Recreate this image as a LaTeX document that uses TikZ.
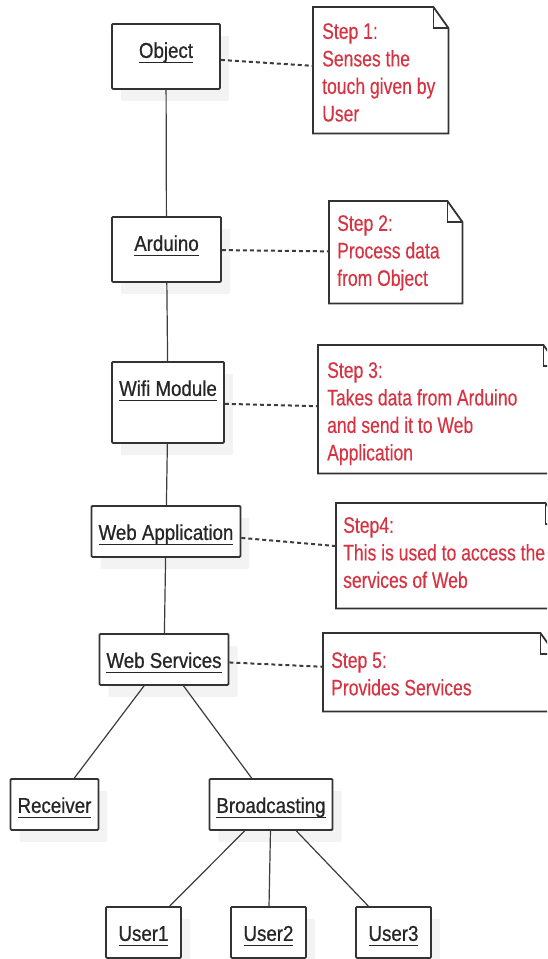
\documentclass[tikz,border=0pt]{standalone}
\usepackage{fontspec}
\setmainfont{Liberation Sans}
\newfontfamily\objfont{Liberation Sans}[FakeStretch=0.87, FakeBold=0.7]
\newfontfamily\notefont{Liberation Sans}[FakeStretch=0.78, FakeBold=0.3]
\usetikzlibrary{shadows}
\definecolor{notered}{RGB}{214,52,66}
\definecolor{linegray}{RGB}{60,60,60}
% underlined object name, rule at a fixed depth
\newcommand{\objname}[1]{\setbox0\hbox{#1}\rlap{\rule[-5.5pt]{\wd0}{1.4pt}}\box0}

\begin{document}
\begin{tikzpicture}[x=1pt, y=-1pt,
            myobject/.style={shape=rectangle, draw=black!80, line width=1.8pt, fill=white,
                rounded corners=1pt, font=\objfont\fontsize{21.5}{26}\selectfont, text=black!85,
                inner xsep=7pt, inner ysep=8pt, text height=26pt, text depth=9pt,
                minimum width=75pt, anchor=north,
                drop shadow={shadow xshift=9pt, shadow yshift=-12pt, fill=black!9, draw=none}},
            mynote/.style={shape=rectangle, inner sep=0pt, anchor=north west},
            myframe/.style={draw=black!80, line width=1.8pt, fill=white},
            mytext/.style={anchor=north west, inner sep=0pt, align=left, text=notered,
                font=\notefont\fontsize{22.5}{27.5}\selectfont},
            mylink/.style={draw=linegray, line width=1.2pt},
            mydash/.style={draw=linegray, line width=2pt, dash pattern=on 4pt off 3pt}
        ]
        \clip (0,0) rectangle (547,959);

        % objects
        \node [myobject, minimum width=108pt, text depth=23pt] (obj)  at (166,23)  {\objname{Object}};
        \node [myobject, minimum width=109pt, text depth=23pt] (ard)  at (166.5,216) {\objname{Arduino}};
        \node [myobject, minimum width=112pt, text depth=39pt] (wifi) at (168,361) {\objname{Wifi Module}};
        \node [myobject] (webapp) at (166,505)   {\objname{Web Application}};
        \node [myobject] (websrv) at (164,633)   {\objname{Web Services}};
        \node [myobject] (recv)   at (54.5,778)  {\objname{Receiver}};
        \node [myobject] (bcast)  at (271,778)   {\objname{Broadcasting}};
        \node [myobject] (user1)  at (143.5,906) {\objname{User1}};
        \node [myobject] (user2)  at (268.5,906) {\objname{User2}};
        \node [myobject] (user3)  at (393.5,906) {\objname{User3}};

        % notes
        \node [mynote, minimum width=135pt, minimum height=126pt] (note1) at (313,7)   {};
        \node [mynote, minimum width=133pt, minimum height=102pt] (note2) at (329,201) {};
        \node [mynote, minimum width=240pt, minimum height=128pt] (note3) at (318,345) {};
        \node [mynote, minimum width=224pt, minimum height=105pt] (note4) at (336,503) {};
        \node [mynote, minimum width=232pt, minimum height=78pt]  (note5) at (323,633) {};

        \foreach \n in {note1,note2,note3,note4,note5} {
            \draw [myframe] (\n.north west) -- ([xshift=-15pt]\n.north east)
                  -- ([yshift=-21pt]\n.north east) -- (\n.south east)
                  -- (\n.south west) -- cycle;
            \draw [myframe, fill=none] ([xshift=-15pt]\n.north east)
                  |- ([yshift=-21pt]\n.north east);
        }

        \node [mytext] (step1) at ([shift={(9pt,-16pt)}]note1.north west)
              {Step 1:\\Senses the\\touch given by\\User};
        \node [mytext] (step2) at ([shift={(8pt,-14pt)}]note2.north west)
              {Step 2:\\Process data\\from Object};
        \node [mytext] (step3) at ([shift={(9pt,-17pt)}]note3.north west)
              {Step 3:\\Takes data from Arduino\\and send it to Web\\Application};
        \node [mytext] (step4) at ([shift={(7pt,-14pt)}]note4.north west)
              {Step4:\\This is used to access the\\services of Web};
        \node [mytext] (step5) at ([shift={(8pt,-19pt)}]note5.north west)
              {Step 5:\\Provides Services};

        % links
        \draw [mylink] (obj) -- (ard);
        \draw [mylink] (ard) -- (wifi);
        \draw [mylink] (wifi) -- (webapp);
        \draw [mylink] (webapp) -- (websrv);
        \draw [mylink] (websrv) -- (recv);
        \draw [mylink] (websrv) -- (bcast);
        \draw [mylink] (bcast) -- (user1);
        \draw [mylink] (bcast) -- (user2);
        \draw [mylink] (bcast) -- (user3);

        \draw [mydash] (obj) -- (note1);
        \draw [mydash] (ard) -- (note2);
        \draw [mydash] (wifi) -- (note3);
        \draw [mydash] (webapp) -- (note4);
        \draw [mydash] (websrv) -- (note5);
    \end{tikzpicture}
\end{document}
